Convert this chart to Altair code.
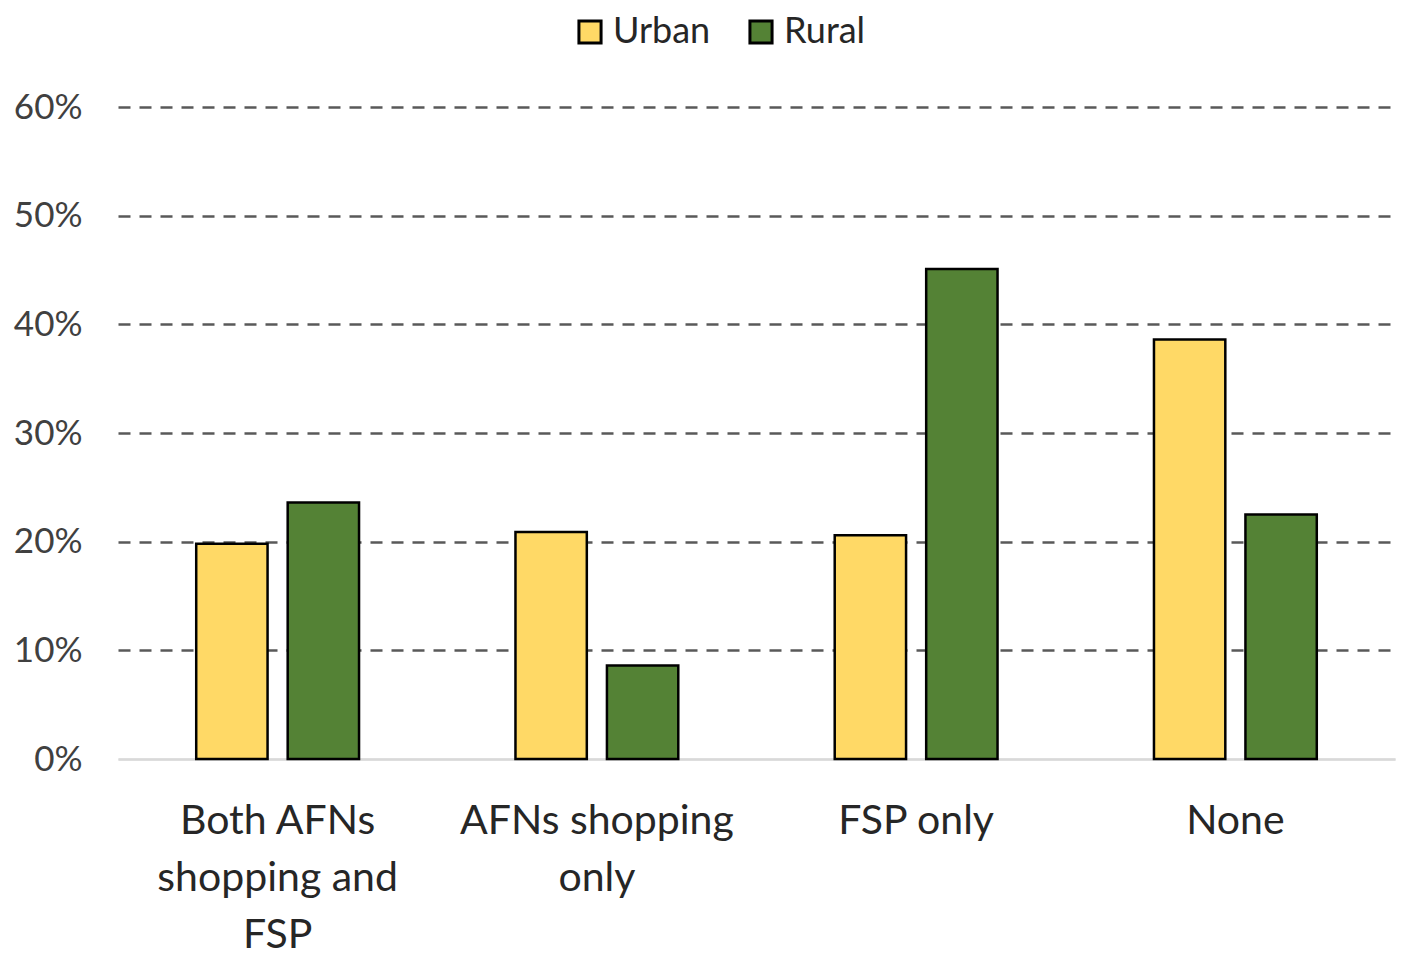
import altair as alt
import pandas as pd

categories = ["Both AFNs shopping and FSP", "AFNs shopping only", "FSP only", "None"]
label_lines = [["Both AFNs", "shopping and", "FSP"], ["AFNs shopping", "only"], ["FSP only"], ["None"]]
groups = ["Urban", "Rural"]
urban = [0.198, 0.209, 0.206, 0.386]
rural = [0.236, 0.086, 0.451, 0.225]
colors = ["#FFD966", "#548235"]
y_ticks = [0, 0.1, 0.2, 0.3, 0.4, 0.5, 0.6]

rows = []
for c, u, r in zip(categories, urban, rural):
    rows.append({"category": c, "group": "Urban", "value": u})
    rows.append({"category": c, "group": "Rural", "value": r})
df = pd.DataFrame(rows)

expr = ""
for c, lines in zip(categories, label_lines):
    arr = "[" + ",".join("'" + l + "'" for l in lines) + "]"
    expr += f"datum.label == '{c}' ? {arr} : "
expr += "datum.label"

FONT = "Lato"

chart = alt.Chart(df).mark_bar(stroke="black", strokeWidth=2.5).encode(
    x=alt.X("category:N", sort=categories, title=None,
            scale=alt.Scale(paddingInner=0.49, paddingOuter=0.245),
            axis=alt.Axis(labelAngle=0, labelExpr=expr, labelFontSize=41, labelFont=FONT,
                          labelColor="#262626", labelPadding=42, labelLineHeight=57,
                          labelBaseline="top", labelLimit=0,
                          domain=True, domainColor="#D9D9D9", domainWidth=2,
                          ticks=False, grid=False)),
    xOffset=alt.XOffset("group:N", sort=groups, scale=alt.Scale(paddingInner=0.22)),
    y=alt.Y("value:Q", title=None,
            scale=alt.Scale(domain=[0, 0.6]),
            axis=alt.Axis(values=y_ticks, format=".0%", labelFontSize=35, labelFont=FONT,
                          labelColor="#404040", labelPadding=36, domain=False, ticks=False,
                          grid=True,
                          gridDash=alt.condition("datum.value == 0", alt.value([1, 0]), alt.value([12, 9])),
                          gridColor=alt.condition("datum.value == 0", alt.value("#D9D9D9"), alt.value("#595959")),
                          gridWidth=2.5)),
    color=alt.Color("group:N", sort=groups,
                    scale=alt.Scale(domain=groups, range=colors),
                    legend=alt.Legend(title=None, orient="none", direction="horizontal",
                                      legendX=454, legendY=-93,
                                      symbolType="square", symbolSize=490,
                                      symbolStrokeColor="black", symbolStrokeWidth=3,
                                      labelFontSize=36, labelFont=FONT, labelColor="#262626",
                                      columnPadding=32, labelOffset=5)),
).properties(
    width=1277, height=652,
    background="white",
    autosize=alt.AutoSizeParams(type="none"),
    padding={"left": 110, "top": 99, "right": 10, "bottom": 200},
).configure_view(stroke=None)

chart.save("out.html", embed_options={"renderer": "svg", "actions": False})
